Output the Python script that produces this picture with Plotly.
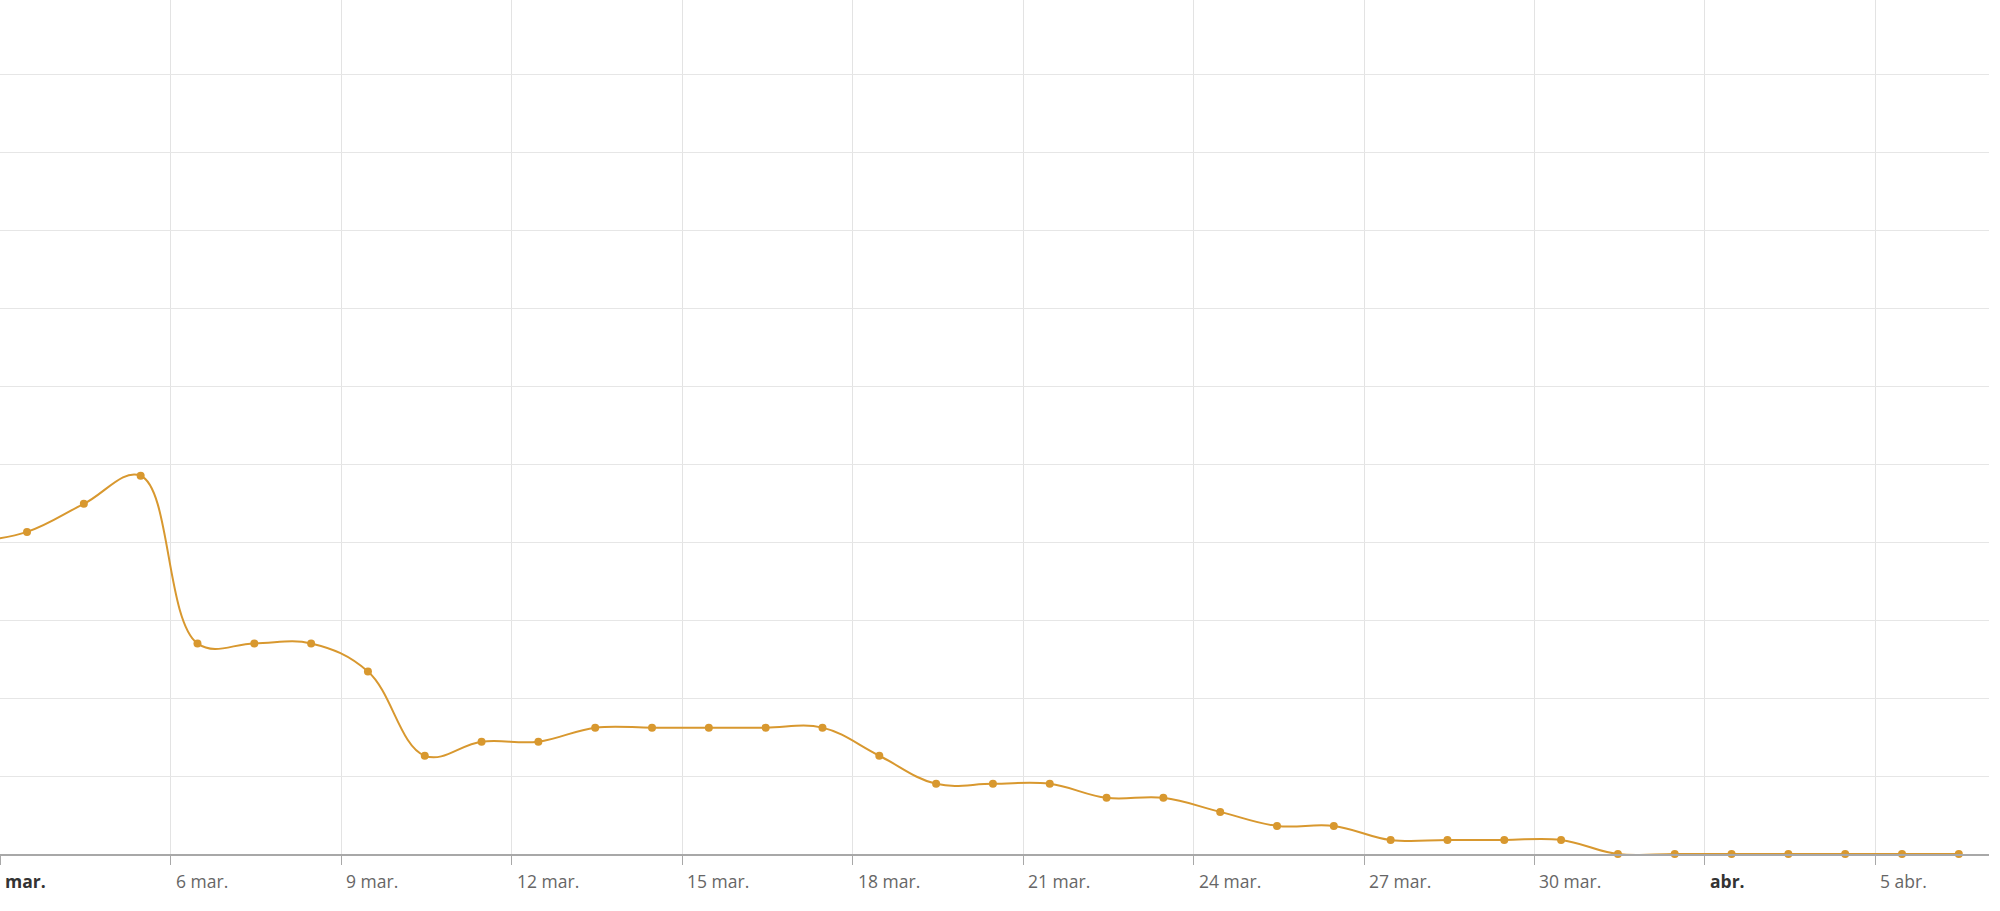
"""Daily series, March - April (spline with markers)"""

import pandas as pd
import plotly.graph_objects as go

# one point per day, sampled late morning
days = pd.date_range("2020-03-02 11:15", periods=36, freq="D")
values = [
    40.0, 41.3, 44.9, 48.5, 27.0, 27.0, 27.0, 23.4, 12.6, 14.4,
    14.4, 16.2, 16.2, 16.2, 16.2, 16.2, 12.6, 9.0, 9.0, 9.0,
    7.2, 7.2, 5.4, 3.6, 3.6, 1.8, 1.8, 1.8, 1.8, 0.0,
    0.0, 0.0, 0.0, 0.0, 0.0, 0.0,
]

tick_dates = [
    "2020-03-03", "2020-03-06", "2020-03-09", "2020-03-12", "2020-03-15",
    "2020-03-18", "2020-03-21", "2020-03-24", "2020-03-27", "2020-03-30",
    "2020-04-02", "2020-04-05",
]
tick_labels = [
    "mar.", "6 mar.", "9 mar.", "12 mar.", "15 mar.", "18 mar.",
    "21 mar.", "24 mar.", "27 mar.", "30 mar.", "abr.", "5 abr.",
]
month_labels = {"mar.", "abr."}

line_color = "#d8982f"

fig = go.Figure()

fig.add_trace(go.Scatter(
    x=days,
    y=values,
    mode="lines+markers",
    line=dict(shape="spline", smoothing=1.1, color=line_color, width=2),
    marker=dict(size=8, color=line_color),
    cliponaxis=False,
    showlegend=False,
    hovertemplate="%{x|%d %b}<br>%{y}<extra></extra>",
))

# Highcharts-like labels: left aligned just right of each tick
for d, lab in zip(tick_dates, tick_labels):
    is_month = lab in month_labels
    fig.add_annotation(
        x=d, y=0, xref="x", yref="paper",
        text=f"<b>{lab}</b>" if is_month else lab,
        showarrow=False,
        xanchor="left", yanchor="middle",
        xshift=3, yshift=-27,
        font=dict(family="Open Sans", size=17.5,
                  color="#333333" if is_month else "#666666"),
    )

fig.update_layout(
    width=2000,
    height=911,
    margin=dict(l=0, r=11, t=0, b=57),
    plot_bgcolor="white",
    paper_bgcolor="white",
    font=dict(family="Open Sans", color="#666666"),
)

fig.update_xaxes(
    type="date",
    range=["2020-03-02 23:50", "2020-04-07 00:00"],
    tickvals=tick_dates,
    showticklabels=False,
    showgrid=True, gridcolor="#e3e3e3", gridwidth=1,
    showline=True, linecolor="#a8a8a8", linewidth=2,
    ticks="outside", ticklen=9, tickcolor="#a8a8a8", tickwidth=1,
    zeroline=False,
)
fig.update_yaxes(
    range=[0, 109.5],
    dtick=10,
    tick0=0,
    showticklabels=False,
    showgrid=True, gridcolor="#e6e6e6", gridwidth=1,
    zeroline=False,
)

# page body margin would push the chart 8px in from the window edge
fig.write_html(
    "out.html",
    config={"displayModeBar": False},
    post_script="document.body.style.margin='0';document.body.style.overflow='hidden';",
)
